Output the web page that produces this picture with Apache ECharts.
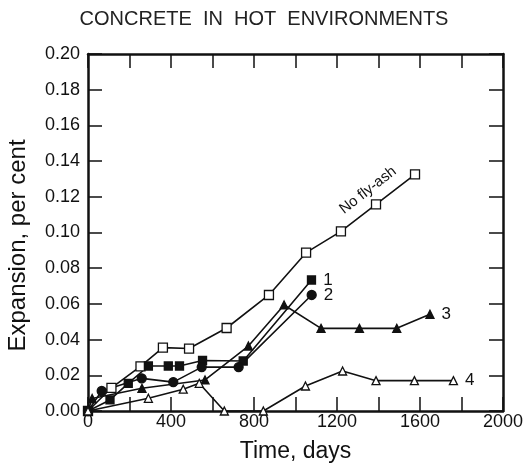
<!DOCTYPE html>
<html>
<head>
<meta charset="utf-8">
<script src="https://cdn.jsdelivr.net/npm/echarts@6/dist/echarts.min.js"></script>
<style>html,body{margin:0;padding:0;background:#fff}#c{width:528px;height:468px}</style>
</head>
<body>
<div id="c"></div>
<script>
const titleText = 'CONCRETE  IN  HOT  ENVIRONMENTS';
const xName = 'Time, days';
const yName = 'Expansion, per cent';
const noFlyAsh = [[0,0],[113,0.013],[253,0.025],[361,0.0355],[487,0.035],[668,0.0465],[872,0.065],[1051,0.0887],[1219,0.1006],[1388,0.1158],[1576,0.1326]];
const s1 = [[0,0],[106,0.0062],[194,0.0155],[291,0.0252],[387,0.0252],[441,0.0252],[552,0.0283],[748,0.028],[1077,0.0734]];
const s2 = [[0,0],[66,0.0112],[259,0.0183],[411,0.0162],[548,0.0246],[726,0.0246],[1078,0.065]];
const s3 = [[0,0],[20,0.007],[260,0.0127],[564,0.0174],[773,0.0364],[945,0.0594],[1123,0.0463],[1308,0.0463],[1488,0.0463],[1648,0.0542]];
const s4 = [[0,0],[291,0.0071],[459,0.0122],[536,0.0155],[657,0],[845,0],[1048,0.014],[1227,0.0224],[1388,0.017],[1573,0.017],[1761,0.017]];
const seriesLabels = ['No fly-ash','1','2','3','4'];

const FONT = 'Liberation Sans, Arial, Helvetica, sans-serif';
const chart = echarts.init(document.getElementById('c'));

function endLabel(data, text) {
  return data.map((d, i) => i === data.length - 1
    ? {value: d, label: {show: true, position: 'right', distance: 7, formatter: text, fontSize: 17, color: '#111', fontFamily: FONT}}
    : d);
}
function mk(name, data, symbol, size, fill, lbl) {
  return {
    name, type: 'line', data: lbl ? endLabel(data, lbl) : data,
    symbol, symbolSize: size, showSymbol: true,
    lineStyle: {color: '#111', width: 1.6},
    itemStyle: {color: fill, borderColor: '#111', borderWidth: 1.3},
    emphasis: {disabled: true}, animation: false, z: 3
  };
}
const axisLine = {show: true, onZero: false, lineStyle: {color: '#111', width: 2.5}};
const tick = {show: true, inside: true, length: 14, lineStyle: {color: '#111', width: 1.5}};

chart.setOption({
  backgroundColor: '#fff',
  animation: false,
  title: {text: titleText, left: 'center', top: 4, textStyle: {fontFamily: FONT, fontSize: 20, fontWeight: 'normal', color: '#222'}},
  grid: {left: 88, right: 25, top: 54, bottom: 57, containLabel: false, outerBoundsMode: 'none'},
  xAxis: [
    {type: 'value', min: 0, max: 2000, interval: 200, position: 'bottom',
     axisLine, axisTick: tick, splitLine: {show: false},
     axisLabel: {fontFamily: FONT, fontSize: 18, color: '#111', margin: 2, formatter: v => (v % 400 === 0 ? String(v) : '')},
     name: xName, nameLocation: 'middle', nameGap: 29, nameTextStyle: {fontFamily: FONT, fontSize: 23, color: '#111', verticalAlign: 'top'}},
    {type: 'value', min: 0, max: 2000, interval: 200, position: 'top',
     axisLine, axisTick: tick, axisLabel: {show: false}, splitLine: {show: false}}
  ],
  yAxis: [
    {type: 'value', min: 0, max: 0.2, interval: 0.02, position: 'left',
     axisLine, axisTick: tick, splitLine: {show: false},
     axisLabel: {fontFamily: FONT, fontSize: 18, color: '#111', margin: 8, formatter: v => v.toFixed(2)},
     name: yName, nameLocation: 'middle', nameGap: 58,
     nameTextStyle: {fontFamily: FONT, fontSize: 24, color: '#111', padding: [0, 26, 0, 0]}},
    {type: 'value', min: 0, max: 0.2, interval: 0.02, position: 'right',
     axisLine, axisTick: tick, axisLabel: {show: false}, splitLine: {show: false}}
  ],
  series: [
    mk('No fly-ash', noFlyAsh, 'rect', 9, '#fff', null),
    mk('1', s1, 'rect', 8, '#111', seriesLabels[1]),
    mk('2', s2, 'circle', 9, '#111', seriesLabels[2]),
    mk('3', s3, 'triangle', 8, '#111', seriesLabels[3]),
    mk('4', s4, 'triangle', 8, '#fff', seriesLabels[4])
  ]
});

const anchor = chart.convertToPixel({xAxisIndex: 0, yAxisIndex: 0}, noFlyAsh[9]);
const ang = 38 * Math.PI / 180;
chart.setOption({
  graphic: [{
    type: 'text', x: anchor[0] - 8, y: anchor[1] - 14, rotation: ang, z: 10,
    style: {text: seriesLabels[0], font: '15px ' + FONT, fill: '#111', align: 'center', verticalAlign: 'middle'}
  }]
});
</script>
</body>
</html>
